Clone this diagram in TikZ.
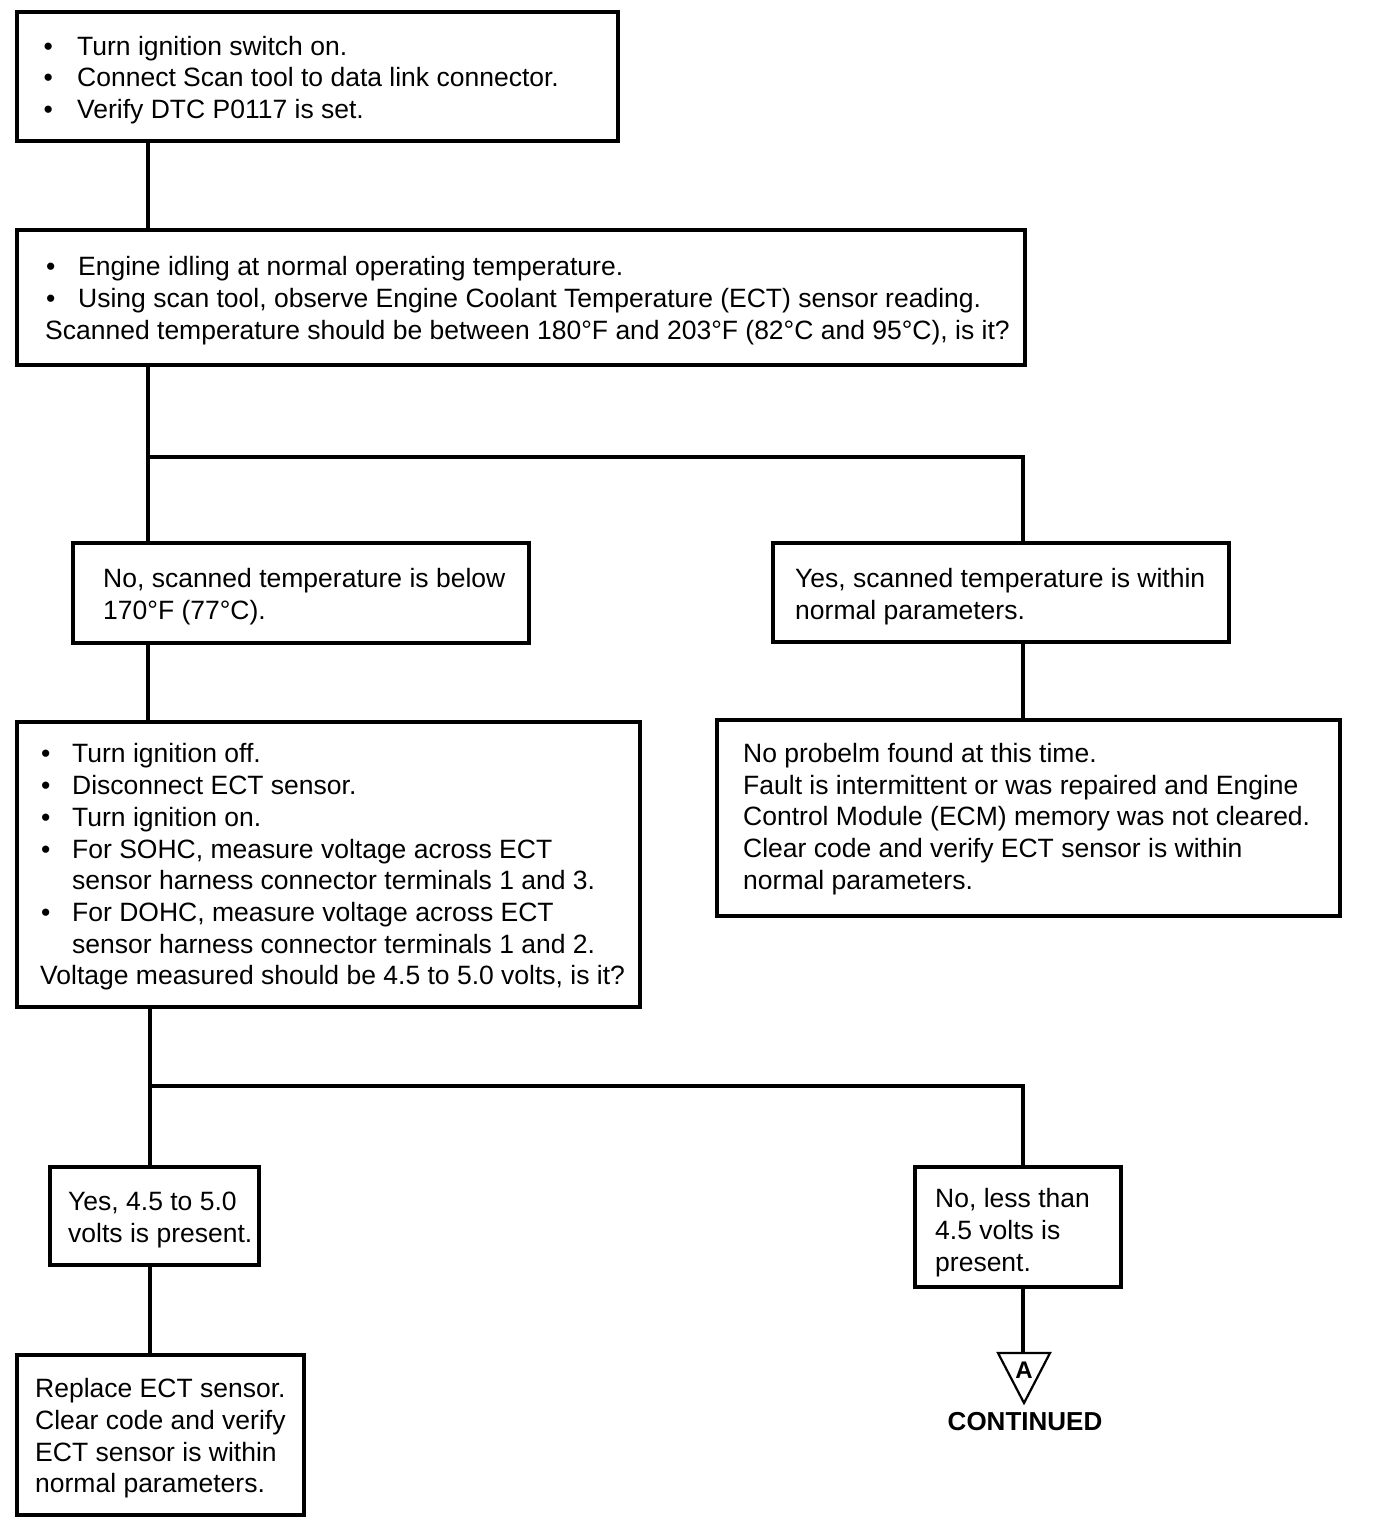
\documentclass[tikz,border=0pt]{standalone}
\usepackage{fontspec}
\setmainfont{Liberation Sans}
\usetikzlibrary{calc}
\newcommand\blt[1]{\makebox[#1][l]{•}}
\begin{document}
\begin{tikzpicture}[x=1pt,y=-1pt,
  box/.style={draw, line width=3.3pt, inner sep=0pt},
  conn/.style={line width=4.4pt},
  txt/.style={anchor=west, inner sep=0pt, align=left, font=\fontsize{26.5}{31.7}\selectfont}]
\useasboundingbox (0,0) rectangle (1376,1534);
% boxes
\node[box, minimum width=601pt, minimum height=129pt] (b1) at (317.5,76.5) {};
\node[box, minimum width=1008pt, minimum height=135pt] (b2) at (521,297.5) {};
\node[box, minimum width=456pt, minimum height=100pt] (b3n) at (301,593) {};
\node[box, minimum width=456pt, minimum height=99pt] (b3y) at (1001,592.5) {};
\node[box, minimum width=623pt, minimum height=285pt] (b4) at (328.5,864.5) {};
\node[box, minimum width=623pt, minimum height=196pt] (b5) at (1028.5,818) {};
\node[box, minimum width=209pt, minimum height=98pt] (b6y) at (154.5,1216) {};
\node[box, minimum width=206pt, minimum height=120pt] (b6n) at (1018,1227) {};
\node[box, minimum width=287pt, minimum height=160pt] (b7) at (160.5,1435) {};
% texts
\node[txt] (t1) at (43.5,80) {\blt{33.5pt}Turn ignition switch on.\\\blt{33.5pt}Connect Scan tool to data link connector.\\\blt{33.5pt}Verify DTC P0117 is set.};
\node[txt] (t2) at (45,300.5) {\hspace*{1pt}\blt{32pt}Engine idling at normal operating temperature.\\\hspace*{1pt}\blt{32pt}Using scan tool, observe Engine Coolant Temperature (ECT) sensor reading.\\Scanned temperature should be between 180°F and 203°F (82°C and 95°C), is it?};
\node[txt] (t3n) at (103,596.5) {No, scanned temperature is below\\170°F (77°C).};
\node[txt] (t3y) at (795,596.5) {Yes, scanned temperature is within\\normal parameters.};
\node[txt] (t4) at (40,867) {\hspace*{1pt}\blt{31pt}Turn ignition off.\\\hspace*{1pt}\blt{31pt}Disconnect ECT sensor.\\\hspace*{1pt}\blt{31pt}Turn ignition on.\\\hspace*{1pt}\blt{31pt}For SOHC, measure voltage across ECT\\\hspace*{32pt}sensor harness connector terminals 1 and 3.\\\hspace*{1pt}\blt{31pt}For DOHC, measure voltage across ECT\\\hspace*{32pt}sensor harness connector terminals 1 and 2.\\Voltage measured should be 4.5 to 5.0 volts, is it?};
\node[txt] (t5) at (743,819) {No probelm found at this time.\\Fault is intermittent or was repaired and Engine\\Control Module (ECM) memory was not cleared.\\Clear code and verify ECT sensor is within\\normal parameters.};
\node[txt] (t6y) at (68,1220) {Yes, 4.5 to 5.0\\volts is present.};
\node[txt] (t6n) at (935,1232.5) {No, less than\\4.5 volts is\\present.};
\node[txt] (t7) at (35,1438.5) {Replace ECT sensor.\\Clear code and verify\\ECT sensor is within\\normal parameters.};
% junctions
\coordinate (j1) at (148,457);
\coordinate (j2) at (1023,457);
\coordinate (k1) at (150,1086);
\coordinate (k2) at (1023,1086);
% off-page connector
\coordinate (triL) at (998,1353);
\coordinate (triR) at (1050,1353);
\coordinate (triB) at (1024,1403);
\coordinate (triT) at (1023,1353);
\draw[line width=2.2pt, line join=miter] (triL) -- (triR) -- (triB) -- cycle;
\node[inner sep=0pt, font=\fontsize{24}{26}\bfseries\selectfont] (tA) at (1024,1370) {A};
\node[inner sep=0pt, font=\fontsize{26}{28}\bfseries\selectfont] (cont) at (1025,1422) {CONTINUED};
% connectors
\draw[conn] (b1.south -| j1) -- (b2.north -| j1);
\draw[conn] (b2.south -| j1) -- (j1);
\draw[conn] (b3n.north -| j1) -- (j1) -- (j2) -- (b3y.north -| j2);
\draw[conn] (b3n.south -| j1) -- (b4.north -| j1);
\draw[conn] (b3y.south -| j2) -- (b5.north -| j2);
\draw[conn] (b4.south -| k1) -- (k1);
\draw[conn] (b6y.north -| k1) -- (k1) -- (k2) -- (b6n.north -| k2);
\draw[conn] (b6y.south -| k1) -- (b7.north -| k1);
\draw[conn] (b6n.south -| k2) -- (triT);
\end{tikzpicture}
\end{document}
